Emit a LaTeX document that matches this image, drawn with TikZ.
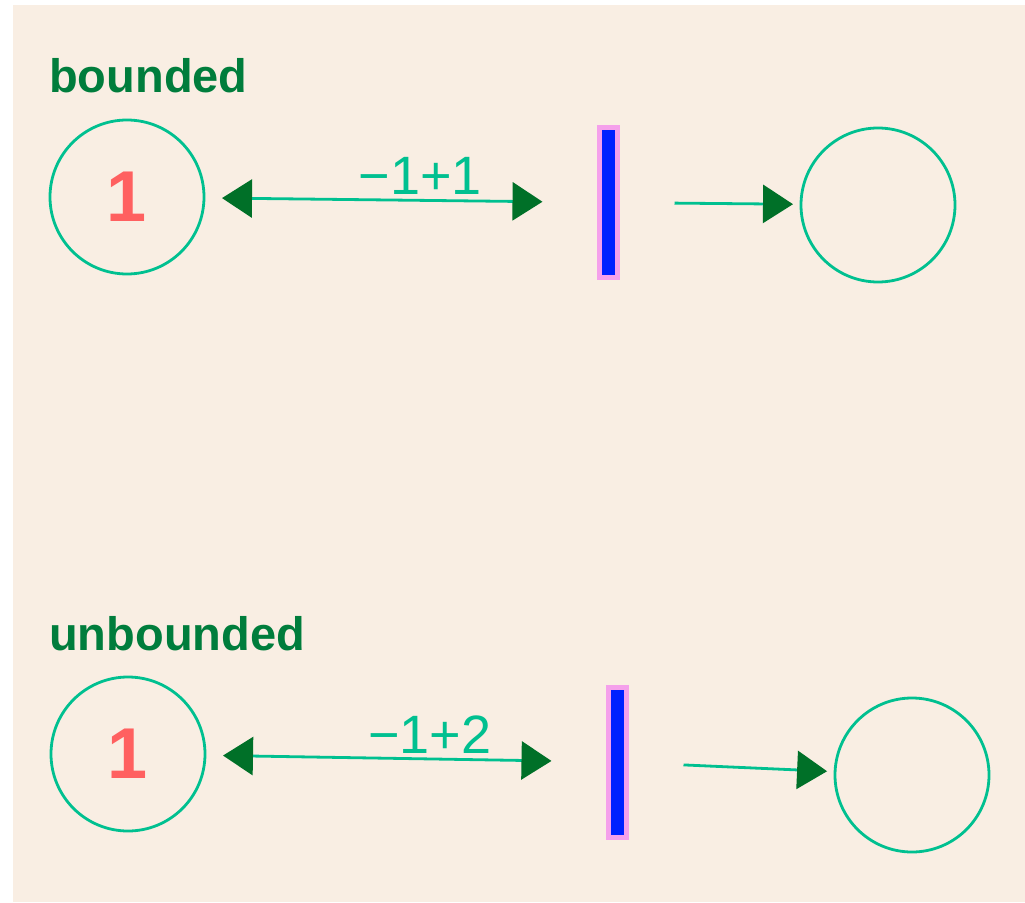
\documentclass[tikz,border=0pt]{standalone}
\usepackage{fontspec}
\setmainfont{Liberation Sans}
\usetikzlibrary{arrows.meta}

\definecolor{paper}{RGB}{249,238,227}
\definecolor{rim}{RGB}{0,192,144}
\definecolor{headgreen}{RGB}{0,112,40}
\definecolor{titlegreen}{RGB}{0,125,60}
\definecolor{tokenred}{RGB}{255,96,96}
\definecolor{barblue}{RGB}{0,32,255}
\definecolor{barpink}{RGB}{245,160,235}

\tikzset{
  placenode/.style={circle, draw=rim, line width=2.8pt, minimum size=154pt,
    inner sep=0pt, outer sep=8pt, text=tokenred,
    font=\bfseries\fontsize{72}{72}\selectfont},
  transbar/.style={rectangle, fill=barblue, draw=barpink, line width=5pt,
    minimum width=18pt, minimum height=150pt, inner sep=0pt, outer xsep=57pt},
  arc/.style={draw=rim, line width=2.8pt,
    >={Triangle[length=30pt,width=38pt,color=headgreen]}},
  weight/.style={text=rim, font=\fontsize{54}{54}\selectfont, inner sep=4pt},
  heading/.style={text=titlegreen, font=\bfseries\fontsize{47}{47}\selectfont,
    anchor=base west, inner sep=0pt},
}

\begin{document}
\begin{tikzpicture}[x=1pt, y=-1pt]
  % sheet: white strip on the left and at the top
  \useasboundingbox (0,0) rectangle (1025,902);
  \fill[white] (0,0) rectangle (1025,902);
  \fill[paper] (13,5) rectangle (1025,902);

  % bounded net
  \node[heading] (hbound) at (49,92) {bounded};
  \node[placenode] (p1) at (127,197) {1};
  \node[transbar] (t1) at (608.5,202.5) {};
  \node[placenode] (p2) at (878,205) {};
  \draw[arc, <->, shorten <=10pt] (p1) -- node[weight, pos=0.63, above] {−1+1} (t1);
  \draw[arc, ->] (t1) -- (p2);

  % unbounded net
  \node[heading] (hunbound) at (49,650) {unbounded};
  \node[placenode] (p3) at (128,754) {1};
  \node[transbar] (t2) at (617.5,762) {};
  \node[placenode] (p4) at (912,775) {};
  \draw[arc, <->, shorten <=10pt] (p3) -- node[weight, pos=0.64, above] {−1+2} (t2);
  \draw[arc, ->] (t2) -- (p4);
\end{tikzpicture}
\end{document}
